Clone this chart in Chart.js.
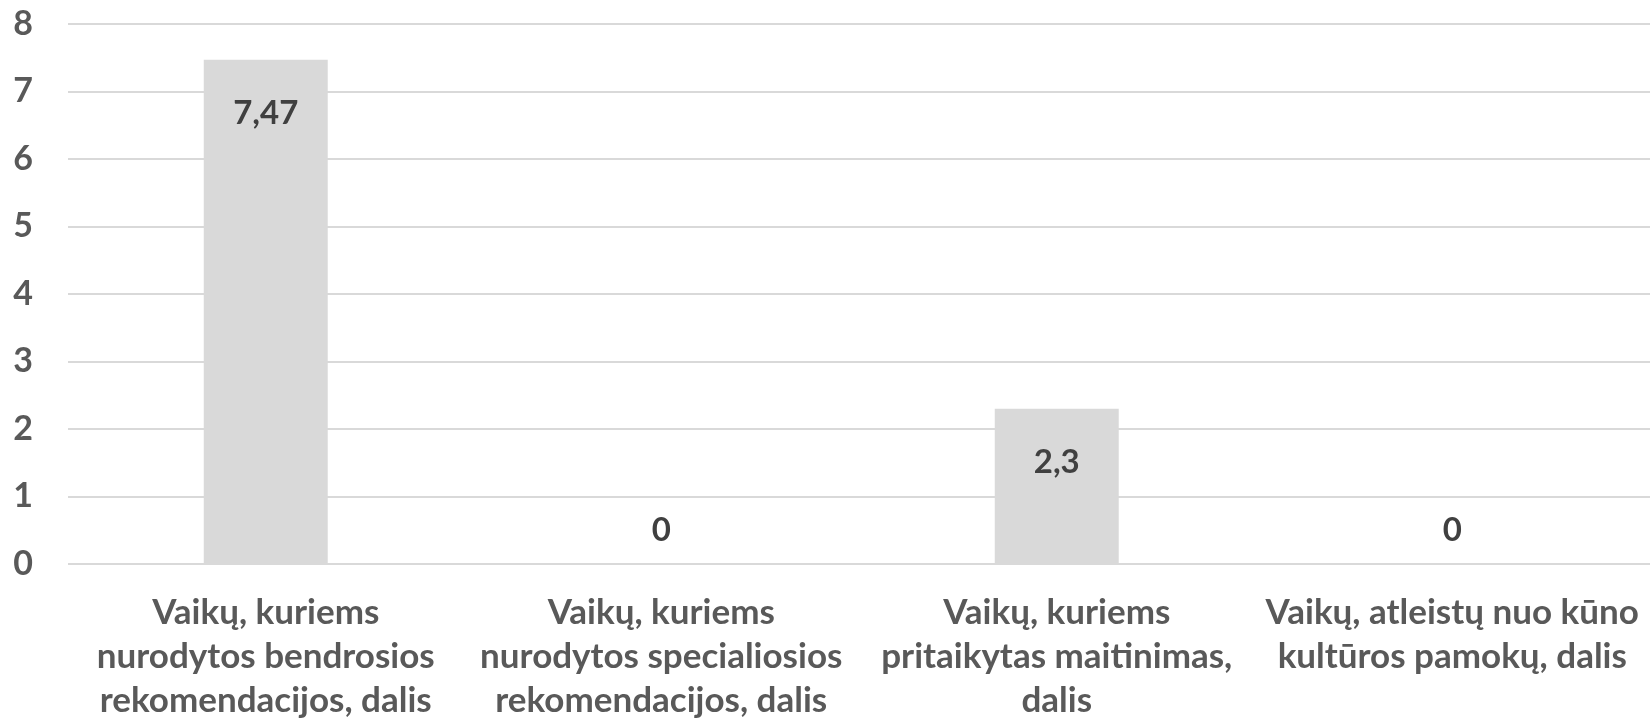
<!DOCTYPE html>
<html>
<head>
<meta charset="utf-8">
<script src="https://cdn.jsdelivr.net/npm/chart.js@4"></script>
<style>
  html, body { margin: 0; padding: 0; background: #fff; }
  #wrap { width: 1652px; height: 720px; }
</style>
</head>
<body>
<div id="wrap"><canvas id="chart" width="1652" height="720"></canvas></div>
<script>
"use strict";

const categories = [
  ["Vaikų, kuriems", "nurodytos bendrosios", "rekomendacijos, dalis"],
  ["Vaikų, kuriems", "nurodytos specialiosios", "rekomendacijos, dalis"],
  ["Vaikų, kuriems", "pritaikytas maitinimas,", "dalis"],
  ["Vaikų, atleistų nuo kūno", "kultūros pamokų, dalis"]
];
const values = [7.47, 0, 2.3, 0];
const yTicks = [0, 1, 2, 3, 4, 5, 6, 7, 8];

const fontFamily = "Lato";

// draws the value labels, inside the top of the bar (or just above the axis for zero)
const valueLabels = {
  id: "valueLabels",
  afterDatasetsDraw(chart) {
    const ctx = chart.ctx;
    const meta = chart.getDatasetMeta(0);
    ctx.save();
    ctx.font = "bold 33px " + fontFamily;
    ctx.fillStyle = "#404040";
    ctx.textAlign = "center";
    ctx.textBaseline = "middle";
    meta.data.forEach(function (bar, i) {
      const v = values[i];
      const text = String(v).replace(".", ",");
      let y;
      if (v > 0) {
        y = bar.y + 54;
      } else {
        y = bar.base - 34;
      }
      ctx.fillText(text, bar.x, y);
    });
    ctx.restore();
  }
};

const data = {
  labels: categories,
  datasets: [
    {
      data: values,
      backgroundColor: "#d9d9d9",
      borderWidth: 0,
      barPercentage: 0.3135,
      categoryPercentage: 1
    }
  ]
};

const config = {
  type: "bar",
  data: data,
  plugins: [valueLabels],
  options: {
    responsive: false,
    animation: false,
    layout: { padding: { top: 24, right: 2, left: 0, bottom: 0 } },
    plugins: {
      legend: { display: false },
      tooltip: { enabled: false }
    },
    scales: {
      x: {
        grid: { display: false, drawTicks: false },
        border: { display: false },
        ticks: {
          color: "#595959",
          font: { family: fontFamily, size: 35, weight: "bold", lineHeight: 1.27 },
          padding: 26,
          maxRotation: 0,
          autoSkip: false
        },
        afterFit(scale) {
          scale.height = 156;
          scale.paddingLeft = 0;
          scale.paddingRight = 0;
        }
      },
      y: {
        min: 0,
        max: 8,
        afterBuildTicks(scale) {
          scale.ticks = yTicks.map(function (v) { return { value: v }; });
        },
        grid: { color: "#d9d9d9", lineWidth: 2, drawTicks: false },
        border: { display: false },
        ticks: {
          color: "#595959",
          font: { family: fontFamily, size: 34, weight: "bold" },
          padding: 35
        },
        afterFit(scale) {
          scale.width = 68;
          scale.paddingTop = 0;
          scale.paddingBottom = 0;
        }
      }
    }
  }
};

const myChart = new Chart(document.getElementById("chart"), config);
</script>
</body>
</html>
